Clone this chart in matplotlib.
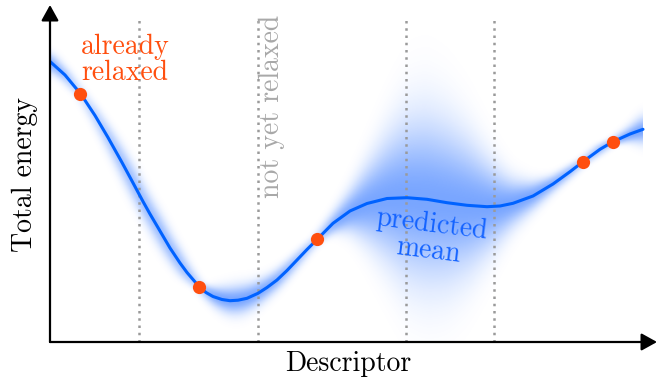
import numpy as np
import matplotlib
matplotlib.use("Agg")
import matplotlib.pyplot as plt

plt.rcParams["font.family"] = "cmr10"
plt.rcParams["mathtext.fontset"] = "cm"
plt.rcParams["axes.formatter.use_mathtext"] = True

# predicted mean of the surrogate model along the descriptor axis
desc = np.array([0.00, 0.15, 0.31, 0.45, 0.58, 0.72, 0.82, 0.93, 1.00, 1.10,
                 1.20, 1.30, 1.37, 1.49, 1.56, 1.63, 1.72, 1.80, 1.88, 1.97,
                 2.08, 2.17, 2.27, 2.37, 2.47, 2.57, 2.67, 2.83, 3.00, 3.17,
                 3.37, 3.57, 3.77, 3.97, 4.17, 4.37, 4.50, 4.63, 4.83, 5.03,
                 5.20, 5.33, 5.50, 5.63, 5.80, 5.93])
mean = np.array([2.805, 2.670, 2.477, 2.265, 2.045, 1.795, 1.610, 1.405, 1.280, 1.110,
                 0.940, 0.790, 0.695, 0.555, 0.495, 0.455, 0.425, 0.413, 0.418, 0.437,
                 0.487, 0.545, 0.620, 0.715, 0.820, 0.925, 1.025, 1.187, 1.310, 1.385,
                 1.435, 1.443, 1.427, 1.393, 1.367, 1.353, 1.360, 1.387, 1.460, 1.580,
                 1.703, 1.803, 1.927, 2.003, 2.080, 2.127])
# one-sigma uncertainty of the prediction
sigma = np.array([0.060, 0.040, 0.020, 0.040, 0.060, 0.080, 0.090, 0.090, 0.090, 0.090,
                  0.080, 0.070, 0.050, 0.020, 0.040, 0.060, 0.080, 0.090, 0.095, 0.090,
                  0.080, 0.070, 0.060, 0.050, 0.040, 0.030, 0.020, 0.060, 0.130, 0.240,
                  0.380, 0.500, 0.530, 0.500, 0.420, 0.300, 0.220, 0.150, 0.090, 0.050,
                  0.035, 0.020, 0.030, 0.020, 0.050, 0.090])

# relaxed structures (training points)
relaxed_x = [0.30, 1.49, 2.67, 5.33, 5.63]
relaxed_y = [2.48, 0.553, 1.027, 1.803, 2.003]

# candidates that have not been relaxed yet
candidates_x = [0.89, 2.08, 3.56, 4.44]

line_blue = "#0062ff"
haze_rgb = np.array([10, 92, 255]) / 255
orange = "#ff4f0f"
grey = "#9a9a9a"

XMAX, YMAX = 5.95, 3.27

fig = plt.figure(figsize=(6.62, 3.81), dpi=100)
ax = fig.add_axes([50 / 662, 39 / 381, 595 / 662, 327 / 381])

# soft uncertainty cloud rendered as a gaussian density image
gx = np.linspace(desc[0], desc[-1], 600)
gy = np.linspace(0, YMAX, 400)
mu = np.interp(gx, desc, mean)
sd = np.interp(gx, desc, sigma)
dens = 0.55 * np.exp(-0.5 * ((gy[:, None] - mu[None, :]) / sd[None, :]) ** 2)
kern = np.exp(-0.5 * (np.arange(-15, 16) / 5.0) ** 2)
kern /= kern.sum()
pad = np.pad(dens, ((0, 0), (15, 15)), mode="edge")
dens = np.array([np.convolve(row, kern, mode="valid") for row in pad])
rgba = np.zeros(dens.shape + (4,))
rgba[..., :3] = haze_rgb
rgba[..., 3] = dens
ax.imshow(rgba, extent=(gx[0], gx[-1], 0, YMAX), origin="lower",
          aspect="auto", interpolation="bilinear", zorder=1)
ax.set_xlim(0, XMAX)
ax.set_ylim(0, YMAX)

ax.vlines(candidates_x, 0, 3.25, colors=grey, linestyles=(0, (1, 1.9)),
          linewidth=1.8, zorder=2)
ax.plot(desc, mean, color=line_blue, linewidth=2.2, zorder=3,
        solid_capstyle="round", solid_joinstyle="round")
ax.plot(relaxed_x, relaxed_y, "o", color=orange, markersize=9.5,
        markeredgewidth=0, zorder=4)

ax.text(0.75, 2.82, "already\nrelaxed", color=orange, fontsize=20,
        ha="center", va="center", linespacing=1.0, zorder=5)
ax.text(2.22, 2.36, "not yet relaxed", color="#a8a8a8", fontsize=20,
        rotation=90, ha="center", va="center", zorder=5)
ax.text(3.80, 1.04, "predicted\nmean", color="#1463ff", fontsize=20,
        rotation=-7, ha="center", va="center", linespacing=1.0,
        rotation_mode="anchor", zorder=5)

# bare axes drawn as arrows
for s in ax.spines.values():
    s.set_visible(False)
ax.set_xticks([])
ax.set_yticks([])
arrow = dict(arrowstyle="-|>,head_length=0.45,head_width=0.25", lw=1.6,
             color="black", shrinkA=0, shrinkB=0, mutation_scale=21)
ax.annotate("", xy=(1.0202, 0), xytext=(0, 0), xycoords="axes fraction",
            arrowprops=arrow, annotation_clip=False)
ax.annotate("", xy=(0, 1.0306), xytext=(0, 0), xycoords="axes fraction",
            arrowprops=arrow, annotation_clip=False)

fig.text(348 / 662, 1 - 364 / 381, "Descriptor", fontsize=20,
         ha="center", va="center")
fig.text(25 / 662, 1 - 175 / 381, "Total energy", fontsize=20,
         rotation=90, ha="center", va="center")

fig.savefig("out.png", dpi=100)
